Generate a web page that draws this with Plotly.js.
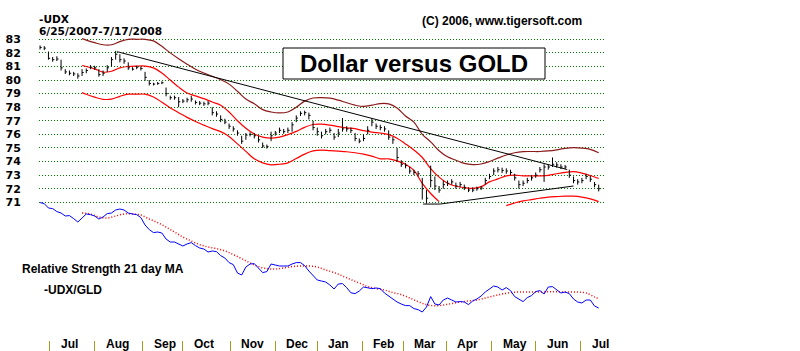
<!DOCTYPE html>
<html>
<head>
<meta charset="utf-8">
<script src="https://cdn.plot.ly/plotly-3.0.1.min.js"></script>
<style>html,body{margin:0;padding:0;background:#fff;}#chart{width:800px;height:351px;}</style>
</head>
<body>
<div id="chart"></div>
<script>
// ---- DATA (trading-day index from 6/25/2007) ----
const priceTicks = [71,72,73,74,75,76,77,78,79,80,81,82,83];
const monthNames = ['Jul','Aug','Sep','Oct','Nov','Dec','Jan','Feb','Mar','Apr','May','Jun','Jul'];
const monthStartDays = [4.5,26,49,68,90.5,112,132,153.5,173,193.5,215,236,257.5];

// UDX bars, one bar per 2 trading days
const barClose = [
82.4,82.35,81.6,81.5,81.55,80.9,80.6,80.5,80.45,80.3,
80.55,80.7,80.95,80.9,80.4,80.5,80.9,81.5,81.9,81.5,
81.4,80.9,80.8,80.95,80.85,80.2,79.75,79.7,79.75,79.8,
79.0,78.7,78.7,78.4,78.45,78.55,78.6,78.35,78.3,78.25,
78.3,77.6,77.5,77.1,76.9,76.6,76.4,76.1,75.5,75.95,
76.0,75.9,75.6,75.15,75.1,75.9,76.1,76.3,76.2,76.3,
76.7,77.2,77.55,77.6,77.4,76.5,76.2,75.9,76.2,76.3,
75.8,76.1,76.4,76.4,76.3,75.7,75.5,75.7,76.3,76.9,
76.6,76.5,76.4,75.8,75.6,74.3,73.8,73.7,73.3,73.2,
73.1,72.0,71.3,72.6,72.2,71.9,72.3,72.4,72.5,72.2,
72.3,72.1,71.9,71.9,72.0,72.05,72.6,72.9,73.3,73.4,
73.35,73.3,73.2,72.8,72.3,72.4,72.6,72.8,73.0,73.4,
73.6,73.6,73.8,73.75,73.6,73.6,73.0,72.6,72.5,72.6,
72.9,72.7,72.3,72.0];
const barHigh = [
82.55,82.5,82.1,81.7,81.75,81.5,80.8,80.7,80.6,80.5,
80.8,80.85,81.1,81.05,80.8,80.7,81.1,81.7,82.15,81.9,
81.6,81.3,80.95,81.05,81.0,80.6,80.0,79.8,79.85,79.9,
79.45,78.85,78.85,78.75,78.6,78.7,78.85,78.5,78.45,78.4,
78.45,78.0,77.7,77.4,77.15,76.8,76.6,76.3,75.9,76.1,
76.15,76.1,75.9,75.4,75.25,76.2,76.25,76.5,76.4,76.5,
76.9,77.4,77.7,77.75,77.6,77.0,76.5,76.2,76.4,76.5,
76.1,76.4,77.2,76.6,76.5,76.1,75.7,76.0,76.6,77.2,
76.8,76.7,76.6,76.3,75.8,75.0,74.1,73.9,73.6,73.4,
73.3,72.8,71.9,73.7,72.9,72.2,72.6,72.6,72.7,72.45,
72.5,72.3,72.1,72.1,72.15,72.2,72.8,73.1,73.5,73.6,
73.55,73.5,73.4,73.1,72.6,72.6,72.8,73.0,73.2,73.6,
73.8,73.8,74.3,73.95,73.8,73.75,73.4,72.9,72.7,72.8,
73.1,72.95,72.5,72.3];
const barLow = [
82.25,82.2,81.5,81.35,81.4,80.7,80.45,80.35,80.3,80.1,
80.3,80.5,80.8,80.75,80.25,80.3,80.6,81.0,81.5,81.3,
81.2,80.75,80.7,80.8,80.7,79.95,79.6,79.6,79.65,79.7,
78.8,78.55,78.55,78.0,78.3,78.35,78.4,78.2,78.15,78.1,
78.15,77.4,77.3,76.9,76.75,76.4,76.2,75.9,75.3,75.6,
75.85,75.7,75.4,75.0,74.95,75.5,75.9,76.1,76.05,76.1,
76.2,76.9,77.35,77.4,77.1,76.3,75.9,75.7,76.0,76.1,
75.6,75.8,76.2,76.2,76.1,75.5,75.35,75.5,76.0,76.6,
76.4,76.3,76.2,75.6,75.3,74.0,73.6,73.5,73.1,73.0,
72.9,71.2,70.9,72.1,71.9,71.7,72.0,72.2,72.3,72.0,
72.1,71.9,71.75,71.75,71.85,71.9,72.3,72.7,73.0,73.2,
73.15,73.1,73.0,72.6,72.0,72.2,72.4,72.6,72.8,73.2,
72.5,73.4,73.6,73.55,73.45,73.45,72.8,72.4,72.3,72.4,
72.7,72.5,72.1,71.8];

// 21-day bands (sampled every 4 trading days)
const bandDays = [20,22,26,30,34,38,42,46,50,54,58,62,66,70,74,78,82,86,90,94,98,102,106,110,114,118,122,126,130,134,138,142,146,150,154,158,162,166,170,174,178,182,186,190,194,198,202,206,210,214,218,222,226,230,234,238,242,246,250,254,258,262,266];
const bandUpper = [83.05,82.94,82.75,82.6,82.6,82.83,83.0,83.0,83.0,82.88,82.48,82.0,81.57,81.17,80.8,80.52,80.28,80.03,79.7,79.17,78.6,78.25,77.82,77.65,77.58,77.65,78.0,78.45,78.68,78.71,78.67,78.52,78.33,78.15,78.06,78.15,78.27,78.25,77.95,77.35,76.9,76.0,75.45,74.8,74.35,74.1,73.86,73.78,73.82,74.0,74.25,74.48,74.65,74.73,74.74,74.74,74.78,74.86,74.97,75.02,74.99,74.9,74.65];
const bandMiddle = [81.07,81.0,80.82,80.58,80.65,80.9,81.0,81.03,81.03,80.9,80.52,80.0,79.48,79.05,78.83,78.63,78.38,78.15,77.65,77.0,76.45,76.03,75.8,75.72,75.8,75.98,76.22,76.52,76.73,76.75,76.68,76.57,76.48,76.42,76.27,76.16,76.1,75.98,75.72,75.3,74.85,74.3,73.48,72.85,72.4,72.18,72.08,72.02,72.15,72.5,72.72,72.95,73.0,72.95,72.95,72.95,72.98,73.1,73.2,73.26,73.15,72.97,72.75];
const bandLower = [79.07,78.95,78.74,78.58,78.6,78.8,78.96,78.96,78.96,78.75,78.37,77.95,77.6,77.25,76.95,76.68,76.42,76.2,75.85,75.3,74.75,74.2,73.9,73.76,73.8,73.9,74.22,74.55,74.78,74.84,74.8,74.76,74.72,74.65,74.55,74.4,74.2,74.2,74.05,73.8,73.35,72.4,71.65,71.05,null,null,null,null,null,null,null,70.75,70.95,71.1,71.2,71.3,71.38,71.42,71.45,71.45,71.38,71.25,71.05];

// trendlines
const trend1Days = [36.7, 251];
const trend1Price = [82.09, 73.41];
const trend2Days = [182.4, 190.5, 254];
const trend2Price = [70.87, 70.87, 72.2];

// Relative strength -UDX/GLD (every 2 trading days) and its 21-day MA
const rsValues = [
1.287,1.282,1.260,1.257,1.242,1.235,1.220,1.222,1.207,1.190,
1.210,1.230,1.227,1.220,1.205,1.215,1.232,1.235,1.250,1.255,
1.250,1.235,1.230,1.227,1.212,1.175,1.152,1.137,1.140,1.135,
1.105,1.090,1.090,1.080,1.070,1.080,1.087,1.072,1.060,1.055,
1.040,1.045,1.042,1.022,1.010,0.987,0.977,0.935,0.925,0.965,
0.980,0.982,0.962,0.937,0.942,0.980,0.975,0.970,0.970,0.970,
0.980,0.987,0.987,0.972,0.945,0.920,0.900,0.895,0.890,0.875,
0.855,0.880,0.882,0.862,0.836,0.832,0.845,0.865,0.860,0.857,
0.860,0.857,0.835,0.820,0.805,0.790,0.780,0.772,0.772,0.757,
0.752,0.740,0.765,0.817,0.780,0.775,0.800,0.810,0.800,0.790,
0.792,0.790,0.777,0.795,0.805,0.820,0.840,0.857,0.870,0.865,
0.850,0.862,0.847,0.817,0.805,0.792,0.812,0.822,0.842,0.847,
0.830,0.865,0.867,0.850,0.835,0.840,0.832,0.805,0.790,0.785,
0.800,0.800,0.770,0.760];
const rsMaDays = [20,24,28,32,36,40,44,48,52,56,60,64,68,72,76,80,84,88,92,96,100,104,108,112,116,120,124,128,132,136,140,144,148,152,156,160,164,168,172,176,180,184,188,192,196,200,204,208,212,216,220,224,228,232,236,240,244,248,252,256,260,264,266];
const rsMaValues = [1.235,1.230,1.215,1.210,1.220,1.230,1.230,1.225,1.205,1.187,1.165,1.140,1.115,1.095,1.077,1.065,1.057,1.046,1.027,1.007,0.985,0.967,0.957,0.955,0.960,0.967,0.970,0.970,0.965,0.950,0.937,0.920,0.902,0.885,0.867,0.857,0.850,0.837,0.827,0.810,0.792,0.777,0.771,0.775,0.782,0.790,0.795,0.800,0.810,0.820,0.830,0.837,0.840,0.840,0.840,0.840,0.842,0.840,0.840,0.840,0.835,0.815,0.807];

// ---- BUILD ----
const barDays = barClose.map((_, k) => 2 * k);
const rsDays = rsValues.map((_, k) => 2 * k);
const bx = [], by = [];
barDays.forEach((d, k) => {
  bx.push(d, d, null, d, d + 0.8, null);
  by.push(barLow[k], barHigh[k], null, barClose[k], barClose[k], null);
});

const SANS = 'Liberation Sans, Arial, sans-serif';
const DJ = 'DejaVu Sans, sans-serif';

const traces = [
  {x: bandDays, y: bandUpper, mode: 'lines', line: {color: '#8b1a1a', width: 1.2, shape: 'spline'}, hoverinfo: 'skip'},
  {x: bandDays, y: bandMiddle, mode: 'lines', line: {color: '#ff0000', width: 1.2, shape: 'spline'}, hoverinfo: 'skip'},
  {x: bandDays, y: bandLower, mode: 'lines', line: {color: '#ff0000', width: 1.2, shape: 'spline'}, connectgaps: false, hoverinfo: 'skip'},
  {x: trend1Days, y: trend1Price, mode: 'lines', line: {color: '#000000', width: 1}, hoverinfo: 'skip'},
  {x: trend2Days, y: trend2Price, mode: 'lines', line: {color: '#000000', width: 1}, hoverinfo: 'skip'},
  {x: bx, y: by, mode: 'lines', line: {color: '#000000', width: 1}, connectgaps: false, hoverinfo: 'skip'},
  {x: rsMaDays, y: rsMaValues, yaxis: 'y2', mode: 'lines', line: {color: '#ff0000', width: 1.5, dash: '1px,2px', shape: 'spline'}, hoverinfo: 'skip'},
  {x: rsDays, y: rsValues, yaxis: 'y2', mode: 'lines', line: {color: '#0000ff', width: 1}, hoverinfo: 'skip'}
];

const annotations = [
  {text: '-UDX', xref: 'paper', yref: 'paper', x: -0.0035, y: 1.0345, xanchor: 'left', yanchor: 'middle', showarrow: false, font: {family: DJ, size: 10.6, color: '#000', weight: 'bold'}},
  {text: '6/25/2007-7/17/2008', xref: 'paper', yref: 'paper', x: -0.0035, y: 0.9975, xanchor: 'left', yanchor: 'middle', showarrow: false, font: {family: DJ, size: 10.6, color: '#000', weight: 'bold'}},
  {text: '(C) 2006, www.tigersoft.com', xref: 'paper', yref: 'paper', x: 0.674, y: 1.029, xanchor: 'left', yanchor: 'middle', showarrow: false, font: {family: SANS, size: 12, color: '#000', weight: 'bold'}},
  {text: 'Dollar versus GOLD', xref: 'paper', yref: 'paper', x: 0.6617, y: 0.891, xanchor: 'center', yanchor: 'middle', showarrow: false, font: {family: SANS, size: 24, color: '#000', weight: 'bold'}},
  {text: 'Relative Strength 21 day MA', xref: 'paper', yref: 'paper', x: -0.033, y: 0.2306, xanchor: 'left', yanchor: 'middle', showarrow: false, font: {family: SANS, size: 12, color: '#000', weight: 'bold'}},
  {text: '-UDX/GLD', xref: 'paper', yref: 'paper', x: 0.0058, y: 0.1629, xanchor: 'left', yanchor: 'middle', showarrow: false, font: {family: SANS, size: 12, color: '#000', weight: 'bold'}}
];
monthNames.forEach((m, i) => {
  annotations.push({text: m, xref: 'x', yref: 'paper', x: monthStartDays[i], xshift: 9, y: -0.0113, xanchor: 'left', yanchor: 'middle', showarrow: false, font: {family: SANS, size: 12, color: '#000', weight: 'bold'}});
});

const layout = {
  width: 800, height: 351,
  margin: {l: 39, r: 195, t: 30, b: 11, pad: 0},
  paper_bgcolor: '#ffffff', plot_bgcolor: '#ffffff',
  showlegend: false,
  hovermode: false,
  xaxis: {
    range: [-0.5, 269.0], tickvals: monthStartDays, ticktext: monthStartDays.map(() => ''),
    ticks: 'outside', ticklen: 11, tickwidth: 1, tickcolor: '#a0a020',
    showgrid: false, zeroline: false, showline: false, fixedrange: true
  },
  yaxis: {
    range: [60.862, 83.6847], tickvals: priceTicks, ticktext: priceTicks.map(String),
    ticks: 'outside', ticklen: 15, tickcolor: 'rgba(0,0,0,0)',
    showgrid: true, gridcolor: '#008000', gridwidth: 1, griddash: '1px,2px',
    zeroline: false, showline: false, fixedrange: true,
    tickfont: {family: DJ, size: 11, color: '#000', weight: 'bold'}
  },
  yaxis2: {overlaying: 'y', range: [0.60, 2.15], visible: false, fixedrange: true},
  shapes: [
    {type: 'rect', xref: 'paper', yref: 'paper', x0: 0.4311, x1: 0.894, y0: 0.8419, y1: 0.9419, line: {color: '#000', width: 1}, fillcolor: '#ffffff', layer: 'above'}
  ],
  annotations: annotations
};

Plotly.newPlot('chart', traces, layout, {staticPlot: true, displayModeBar: false});
</script>
</body>
</html>
